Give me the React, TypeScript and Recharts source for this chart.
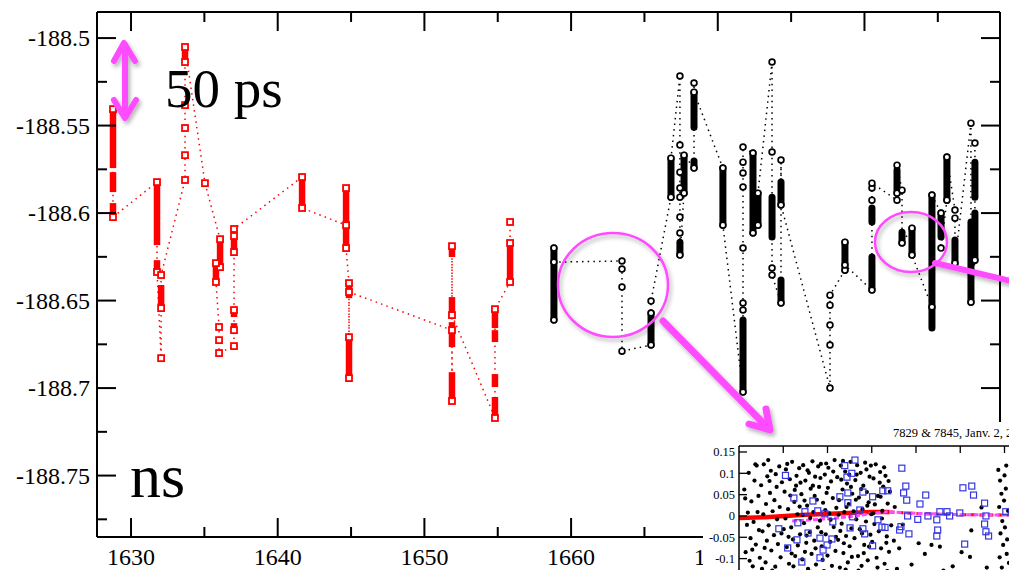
import React from 'react';
import { ComposedChart, Line, Scatter, XAxis, YAxis } from 'recharts';

// ===== main chart axes =====
const xTicks = [1630, 1635, 1640, 1645, 1650, 1655, 1660, 1665, 1670, 1675, 1680, 1685];
const yTicks = [-188.775, -188.75, -188.725, -188.7, -188.675, -188.65, -188.625, -188.6, -188.575, -188.55, -188.525, -188.5];
const X_DOMAIN = [1627.68, 1689.24];
const Y_DOMAIN = [-188.7851, -188.4851];

// ===== red series (time order, [x, y]) =====
const redPath = [
  [1628.77, -188.5406], [1628.77, -188.6023],
  [1631.77, -188.5823], [1631.77, -188.6337], [1632.05, -188.6829], [1632.05, -188.6543], [1632.05, -188.6354],
  [1633.68, -188.5811], [1633.68, -188.5669], [1633.68, -188.5514], [1633.68, -188.5383], [1633.68, -188.5137], [1633.68, -188.5051],
  [1635.04, -188.5829],
  [1636.07, -188.6149], [1636.07, -188.6309], [1635.79, -188.6286], [1635.79, -188.6394],
  [1636.0, -188.6651], [1636.0, -188.6726], [1636.0, -188.68],
  [1637.02, -188.676], [1637.02, -188.6669], [1637.02, -188.6554], [1637.02, -188.6223], [1637.02, -188.6131], [1637.02, -188.6091],
  [1641.66, -188.5794], [1641.66, -188.5971],
  [1644.66, -188.6069], [1644.66, -188.5857], [1644.66, -188.62],
  [1644.86, -188.64], [1644.86, -188.6709], [1644.86, -188.6943], [1644.86, -188.6451],
  [1651.88, -188.6669], [1651.88, -188.7074], [1651.88, -188.6189], [1651.88, -188.6583],
  [1654.81, -188.7171], [1654.81, -188.6549],
  [1655.84, -188.6394], [1655.84, -188.6171], [1655.84, -188.6051],
];
// dense runs of points: [x, top, bottom]
const redBars = [
  [1628.77, -188.5406, -188.5743], [1628.77, -188.5766, -188.588], [1628.77, -188.5943, -188.6023],
  [1631.77, -188.5823, -188.6183], [1631.77, -188.6269, -188.6337], [1632.05, -188.6411, -188.6543],
  [1633.68, -188.5051, -188.5137],
  [1636.07, -188.6149, -188.6309], [1635.79, -188.6286, -188.6394],
  [1637.02, -188.6131, -188.6223], [1637.02, -188.6554, -188.6594], [1637.02, -188.6629, -188.6669],
  [1641.66, -188.5794, -188.5971],
  [1644.66, -188.5857, -188.62],
  [1644.86, -188.64, -188.6486], [1644.86, -188.6709, -188.6943],
  [1651.88, -188.6189, -188.6251], [1651.88, -188.648, -188.66], [1651.88, -188.6623, -188.6766], [1651.88, -188.6909, -188.7074],
  [1654.81, -188.6549, -188.6657], [1654.81, -188.6669, -188.6737], [1654.81, -188.692, -188.6994], [1654.81, -188.7051, -188.7171],
  [1655.84, -188.6171, -188.6394],
];

// ===== black series =====
const blackPath = [
  [1658.83, -188.6611], [1658.83, -188.62], [1658.83, -188.628],
  [1663.47, -188.6274], [1663.47, -188.632], [1663.47, -188.6423], [1663.47, -188.6789],
  [1665.45, -188.6754], [1665.45, -188.6571], [1665.45, -188.6503],
  [1666.81, -188.5909], [1666.81, -188.5686],
  [1667.42, -188.5217], [1667.42, -188.5611], [1667.42, -188.5766], [1667.42, -188.5857], [1667.42, -188.5909], [1667.42, -188.6023], [1667.42, -188.6114], [1667.42, -188.624],
  [1667.7, -188.5886], [1667.7, -188.5669],
  [1668.38, -188.5743], [1668.38, -188.5257], [1668.38, -188.5309],
  [1670.35, -188.5743], [1670.35, -188.6069],
  [1671.72, -188.7023], [1671.72, -188.6554], [1671.72, -188.6514], [1671.72, -188.62], [1671.72, -188.5851], [1671.72, -188.5771], [1671.72, -188.5709], [1671.72, -188.5623],
  [1672.4, -188.5657], [1672.4, -188.6114],
  [1672.74, -188.6069], [1672.74, -188.5886],
  [1673.7, -188.5137], [1673.7, -188.5651], [1673.7, -188.6314], [1673.7, -188.6354],
  [1674.31, -188.6514], [1674.31, -188.5697], [1674.31, -188.5954],
  [1677.65, -188.7], [1677.65, -188.6754], [1677.65, -188.664], [1677.65, -188.6526], [1677.65, -188.6469],
  [1678.67, -188.6326], [1678.67, -188.6166], [1678.67, -188.6297],
  [1680.51, -188.644], [1680.51, -188.5926], [1680.51, -188.5857], [1680.51, -188.5829],
  [1682.22, -188.5926], [1682.22, -188.5886], [1682.22, -188.5726],
  [1682.56, -188.5869], [1682.56, -188.6171],
  [1683.24, -188.6086], [1683.24, -188.624],
  [1684.6, -188.6537], [1684.6, -188.5897],
  [1685.22, -188.6], [1685.22, -188.62],
  [1685.62, -188.5926], [1685.62, -188.568],
  [1686.17, -188.5983], [1686.17, -188.6029], [1686.17, -188.6286],
  [1687.26, -188.5486], [1687.26, -188.6509],
  [1687.53, -188.6269], [1687.53, -188.56],
];
const blackBars = [
  [1658.83, -188.62, -188.6611],
  [1665.45, -188.6571, -188.6754],
  [1666.81, -188.5686, -188.5909],
  [1667.42, -188.6166, -188.624],
  [1667.7, -188.5669, -188.5886],
  [1668.38, -188.5309, -188.5509], [1668.38, -188.5703, -188.5743],
  [1670.35, -188.5743, -188.6069],
  [1671.72, -188.6611, -188.7023],
  [1672.4, -188.5657, -188.6114],
  [1672.74, -188.5886, -188.6069],
  [1673.7, -188.5909, -188.6137],
  [1674.31, -188.5823, -188.5954], [1674.31, -188.6383, -188.6514],
  [1678.67, -188.6166, -188.6326],
  [1680.51, -188.6251, -188.644], [1680.51, -188.5971, -188.6051],
  [1682.22, -188.5754, -188.5886],
  [1682.56, -188.6109, -188.6171],
  [1683.24, -188.6086, -188.624],
  [1684.6, -188.5897, -188.6657],
  [1685.22, -188.6, -188.6137],
  [1685.62, -188.568, -188.5926],
  [1686.17, -188.6154, -188.6286],
  [1687.26, -188.6051, -188.6509],
  [1687.53, -188.5709, -188.5909], [1687.53, -188.6, -188.6269],
];

// ===== inset (residuals) =====
const insetXTicks = [1, 2, 3, 4, 5, 6, 7];
const insetYTicks = [-0.1, -0.05, 0, 0.05, 0.1, 0.15];
const insetBlack = [
  [0.12, 0.062], [0.18, -0.021], [0.22, 0.101], [0.15, -0.085], [0.28, 0.034], [0.31, -0.118], [0.26, -0.052], [0.35, 0.083], [0.2, 0.008], [0.33, -0.014],
  [0.4, 0.118], [0.38, -0.067], [0.44, 0.047], [0.47, -0.098], [0.42, 0.009], [0.14, 0.041], [0.24, -0.105], [0.37, 0.121], [0.3, -0.079], [0.45, -0.033],
  [0.5, 0.072], [0.53, -0.036], [0.56, 0.121], [0.58, -0.075], [0.61, 0.028], [0.64, 0.093], [0.6, -0.109], [0.67, -0.022], [0.7, 0.054], [0.73, -0.081],
  [0.66, 0.131], [0.76, 0.011], [0.79, -0.045], [0.72, 0.106], [0.82, -0.119], [0.85, 0.068], [0.8, 0.037], [0.88, -0.066], [0.91, 0.116], [0.86, -0.008],
  [0.94, -0.097], [0.97, 0.079], [0.92, 0.021], [0.55, 0.004], [0.63, -0.058], [0.69, 0.082], [0.75, -0.128], [0.83, 0.098], [0.96, -0.041], [0.52, -0.124],
  [1.01, -0.031], [1.03, 0.057], [1.06, 0.109], [1.08, -0.073], [1.11, 0.016], [1.13, -0.112], [1.15, 0.086], [1.18, -0.027], [1.2, 0.127], [1.22, -0.055],
  [1.25, 0.033], [1.27, -0.094], [1.29, 0.071], [1.32, 0.004], [1.34, -0.131], [1.36, 0.112], [1.38, -0.043], [1.05, -0.006], [1.16, 0.048], [1.23, -0.118],
  [1.3, 0.094], [1.37, 0.022], [1.09, 0.122], [1.19, -0.088], [1.26, 0.061], [1.33, -0.069], [1.12, -0.049], [1.39, 0.078],
  [1.41, 0.051], [1.43, -0.102], [1.45, 0.119], [1.47, -0.017], [1.5, 0.083], [1.52, -0.063], [1.54, 0.024], [1.56, -0.124], [1.58, 0.101], [1.6, -0.038],
  [1.62, 0.064], [1.64, -0.089], [1.66, 0.128], [1.68, 0.009], [1.7, -0.058], [1.72, 0.092], [1.74, -0.114], [1.76, 0.038], [1.78, -0.027], [1.44, 0.002],
  [1.49, -0.084], [1.55, 0.107], [1.61, -0.005], [1.67, 0.071], [1.73, -0.076], [1.79, 0.116], [1.48, 0.036], [1.63, -0.131], [1.71, 0.047], [1.53, -0.046],
  [1.81, 0.068], [1.83, -0.011], [1.85, 0.122], [1.87, -0.071], [1.9, 0.031], [1.92, -0.129], [1.94, 0.097], [1.96, -0.043], [1.98, 0.054], [2.0, -0.093],
  [2.02, 0.113], [2.04, 0.006], [2.06, -0.061], [2.08, 0.081], [2.1, -0.117], [2.12, 0.042], [2.14, -0.026], [2.16, 0.131], [2.18, -0.082], [2.2, 0.019],
  [1.84, 0.089], [1.89, -0.103], [1.95, 0.014], [2.01, 0.066], [2.07, -0.009], [2.13, 0.104], [2.19, -0.049], [1.86, -0.038], [1.97, 0.123], [2.09, -0.136],
  [2.22, 0.091], [2.24, -0.056], [2.26, 0.037], [2.28, -0.121], [2.3, 0.118], [2.32, -0.018], [2.34, 0.062], [2.36, -0.087], [2.38, 0.009], [2.4, 0.104],
  [2.42, -0.047], [2.44, 0.076], [2.46, -0.109], [2.48, 0.028], [2.5, -0.071], [2.52, 0.127], [2.54, -0.029], [2.56, 0.052], [2.58, -0.133], [2.25, 0.003],
  [2.31, 0.085], [2.37, -0.064], [2.43, 0.021], [2.49, 0.097], [2.55, -0.096], [2.29, -0.035], [2.41, -0.126], [2.53, 0.068], [2.59, 0.011], [2.35, 0.129],
  [2.61, -0.052], [2.63, 0.084], [2.65, -0.008], [2.67, 0.119], [2.69, -0.094], [2.71, 0.043], [2.73, -0.031], [2.75, 0.101], [2.77, -0.117], [2.79, 0.016],
  [2.81, 0.071], [2.83, -0.068], [2.85, 0.125], [2.87, -0.013], [2.89, 0.056], [2.91, -0.104], [2.93, 0.032], [2.95, 0.092], [2.97, -0.044], [2.99, 0.004],
  [2.64, 0.038], [2.7, -0.128], [2.76, 0.063], [2.82, -0.087], [2.88, 0.109], [2.94, -0.072], [2.66, 0.097], [2.78, -0.041], [2.9, 0.024], [2.98, 0.118],
  [3.01, -0.061], [3.04, 0.088], [3.06, -0.019], [3.09, 0.121], [3.11, -0.098], [3.14, 0.047], [3.16, -0.036], [3.19, 0.103], [3.21, -0.076], [3.24, 0.012],
  [3.26, 0.069], [3.29, -0.112], [3.31, 0.094], [3.34, -0.048], [3.36, 0.029], [3.39, -0.084], [3.41, 0.057], [3.44, -0.022], [3.07, 0.027], [3.13, -0.121],
  [3.18, 0.078], [3.23, -0.006], [3.28, 0.114], [3.33, -0.063], [3.38, 0.082], [3.03, 0.006], [3.2, 0.045], [3.35, -0.129],
  [3.5, -0.058], [3.57, -0.124], [3.62, -0.076], [3.9, -0.114], [4.06, -0.064], [4.2, -0.089], [4.35, -0.068], [4.54, -0.072], [4.62, -0.128], [4.83, -0.118],
  [5.03, -0.085], [5.22, -0.096], [5.25, -0.034], [5.6, -0.121], [5.48, 0.02], [3.52, 0.021], [3.7, -0.02],
  [5.86, 0.108], [5.9, 0.083], [5.93, 0.052], [5.88, 0.021], [5.95, -0.012], [5.91, -0.041], [5.97, -0.068], [5.89, -0.097], [5.94, -0.121],
  [6.0, 0.095], [6.03, 0.064], [6.01, -0.027], [6.05, -0.089], [5.99, 0.036], [6.06, -0.055], [6.08, 0.012], [6.1, -0.11], [6.04, 0.118],
];
const insetBlue = [
  [1.24, 0.042], [1.33, -0.016], [1.31, -0.056], [1.42, -0.108], [1.49, 0.01], [1.56, -0.04], [1.67, 0.035], [1.78, 0.012], [1.83, -0.052], [1.83, -0.098],
  [1.9, -0.08], [1.94, 0.005], [1.99, -0.068], [2.1, -0.054], [2.12, -0.014], [2.28, 0.045], [2.39, 0.118], [2.44, 0.091], [2.46, 0.054], [2.46, 0.031],
  [2.51, -0.028], [2.55, 0.1], [2.57, -0.002], [2.62, 0.131], [2.73, 0.014], [2.8, 0.056], [2.8, -0.03], [2.84, -0.042], [3.02, 0.045], [3.02, -0.07],
  [3.14, -0.009], [3.23, -0.026], [3.25, 0.059], [3.3, -0.027], [3.36, 0.059], [3.63, -0.033], [3.66, -0.025], [3.68, 0.112], [3.72, 0.054], [3.77, 0.07],
  [3.79, 0.037], [3.81, 0.0], [3.84, -0.042], [4.04, -0.008], [4.09, 0.028], [4.22, 0.049], [4.27, 0.0], [4.47, -0.009], [4.47, -0.047], [4.49, -0.033],
  [4.54, 0.01], [4.7, 0.01], [4.76, 0.0], [4.99, 0.007], [5.06, 0.066], [5.1, -0.066], [5.26, 0.07], [5.3, 0.049], [5.55, 0.03], [5.58, 0.0],
  [5.55, -0.019], [5.58, -0.037], [5.64, -0.047], [6.03, 0.01], [1.05, 0.095], [0.9, -0.03], [1.1, -0.075],
];
const insetRed = [[0, -0.005], [0.6, -0.003], [1.4, 0.002], [2.2, 0.006], [3.0, 0.009], [3.4, 0.009]];
const insetRedTail = [[3.4, 0.009], [4.2, 0.005], [5.0, 0.003], [5.8, 0.002], [6.4, 0.002]];
const insetMagenta = [[1.2, -0.012], [1.8, -0.008], [2.5, -0.002], [3.0, 0.006], [3.4, 0.01], [4.0, 0.006], [5.0, 0.003], [6.4, 0.002]];

const FONT = '"Liberation Serif", "Times New Roman", serif';
const RED = '#ff0000';
const MAGENTA = '#ff4cff';
const AXIS = { stroke: '#000', strokeWidth: 2 };

const pts = (a: number[][]) => a.map(([x, y]) => ({ x, y }));
const isMajorY = (v: number) => Math.round(v * 1000) % 50 === 0;

// ticks point inwards, labels outside (axes have 1px thickness so recharts draws them)
function BottomTick({ x, y, payload }: any) {
  const major = payload.value % 10 === 0;
  return (
    <g>
      <line x1={x} y1={y} x2={x} y2={y - (major ? 19 : 10)} stroke="#000" strokeWidth={2} />
      {major && (
        <text x={x} y={y + 28} textAnchor="middle" fontSize={24} fontFamily={FONT} fill="#000">
          {payload.value}
        </text>
      )}
    </g>
  );
}

function TopTick({ x, y, payload }: any) {
  const major = payload.value % 10 === 0;
  return <line x1={x} y1={y} x2={x} y2={y + (major ? 19 : 10)} stroke="#000" strokeWidth={2} />;
}

function LeftTick({ x, y, payload }: any) {
  const major = isMajorY(payload.value);
  return (
    <g>
      <line x1={x} y1={y} x2={x + (major ? 19 : 10)} y2={y} stroke="#000" strokeWidth={2} />
      {major && (
        <text x={x - 7} y={y + 8} textAnchor="end" fontSize={24} fontFamily={FONT} fill="#000">
          {String(payload.value)}
        </text>
      )}
    </g>
  );
}

function RightTick({ x, y, payload }: any) {
  const major = isMajorY(payload.value);
  return <line x1={x} y1={y} x2={x - (major ? 19 : 10)} y2={y} stroke="#000" strokeWidth={2} />;
}

function InsetLeftTick({ x, y, payload }: any) {
  return (
    <g>
      <line x1={x} y1={y} x2={x + 8} y2={y} stroke="#000" strokeWidth={1.3} />
      <text x={x - 4} y={y + 4.5} textAnchor="end" fontSize={12.5} fontFamily={FONT} fill="#000">
        {String(payload.value)}
      </text>
    </g>
  );
}

function InsetTopTick({ x, y }: any) {
  return <line x1={x} y1={y} x2={x} y2={y + 7} stroke="#000" strokeWidth={1.3} />;
}

const redSquare = (p: any) => (
  <rect x={p.cx - 3} y={p.cy - 3} width={6} height={6} fill="#fff" stroke={RED} strokeWidth={1.8} />
);
const blackCircle = (p: any) => (
  <circle cx={p.cx} cy={p.cy} r={2.9} fill="#fff" stroke="#000" strokeWidth={1.7} />
);
const insetDot = (p: any) => <circle cx={p.cx} cy={p.cy} r={2.1} fill="#000" />;
const insetSquare = (p: any) => (
  <rect x={p.cx - 3} y={p.cy - 3} width={6} height={6} fill="none" stroke="#3535e0" strokeWidth={1.2} />
);

function MainChart() {
  return (
    <ComposedChart width={1009} height={570} margin={{ top: 11, right: 8, bottom: 32, left: 96 }}>
      <XAxis type="number" dataKey="x" domain={X_DOMAIN} ticks={xTicks} interval={0} height={1}
        tickSize={0} tickMargin={0} tickLine={false} axisLine={AXIS} allowDataOverflow
        tick={(p: any) => <BottomTick {...p} />} />
      <XAxis xAxisId="top" orientation="top" type="number" dataKey="x" domain={X_DOMAIN} ticks={xTicks}
        interval={0} height={1} tickSize={0} tickMargin={0} tickLine={false} axisLine={AXIS} allowDataOverflow
        tick={(p: any) => <TopTick {...p} />} />
      <YAxis type="number" dataKey="y" domain={Y_DOMAIN} ticks={yTicks} interval={0} width={1}
        tickSize={0} tickMargin={0} tickLine={false} axisLine={AXIS} allowDataOverflow
        tick={(p: any) => <LeftTick {...p} />} />
      <YAxis yAxisId="right" orientation="right" type="number" dataKey="y" domain={Y_DOMAIN} ticks={yTicks}
        interval={0} width={1} tickSize={0} tickMargin={0} tickLine={false} axisLine={AXIS} allowDataOverflow
        tick={(p: any) => <RightTick {...p} />} />

      <Line data={pts(redPath)} dataKey="y" stroke={RED} strokeWidth={1.5} strokeDasharray="1.5 4.2"
        dot={false} isAnimationActive={false} />
      <Line data={pts(blackPath)} dataKey="y" stroke="#000" strokeWidth={1.5} strokeDasharray="1.5 4.2"
        dot={false} isAnimationActive={false} />
      {redBars.map(([x, t, b], i) => (
        <Line key={'rb' + i} data={[{ x, y: t }, { x, y: b }]} dataKey="y" stroke={RED} strokeWidth={6.5}
          dot={false} isAnimationActive={false} />
      ))}
      {blackBars.map(([x, t, b], i) => (
        <Line key={'bb' + i} data={[{ x, y: t }, { x, y: b }]} dataKey="y" stroke="#000" strokeWidth={7}
          strokeLinecap="round" dot={false} isAnimationActive={false} />
      ))}
      <Scatter data={pts(redPath)} shape={redSquare} isAnimationActive={false} />
      <Scatter data={pts(blackPath)} shape={blackCircle} isAnimationActive={false} />
    </ComposedChart>
  );
}

function InsetChart() {
  return (
    <div style={{ position: 'absolute', left: 703, top: 422, width: 306, height: 148, overflow: 'hidden', background: '#fff' }}>
      <ComposedChart width={400} height={190} margin={{ top: 23, right: 10, bottom: 15, left: 35 }}>
        <XAxis orientation="top" type="number" dataKey="x" domain={[0, 8]} ticks={insetXTicks} interval={0}
          height={1} tickSize={0} tickMargin={0} tickLine={false} axisLine={{ stroke: '#000', strokeWidth: 1.5 }}
          allowDataOverflow tick={(p: any) => <InsetTopTick {...p} />} />
        <YAxis type="number" dataKey="y" domain={[-0.19, 0.164]} ticks={insetYTicks} interval={0} width={1}
          tickSize={0} tickMargin={0} tickLine={false} axisLine={{ stroke: '#000', strokeWidth: 1.5 }}
          allowDataOverflow tick={(p: any) => <InsetLeftTick {...p} />} />
        <Scatter data={pts(insetBlack)} shape={insetDot} isAnimationActive={false} />
        <Scatter data={pts(insetBlue)} shape={insetSquare} isAnimationActive={false} />
        <Line data={pts(insetRed)} dataKey="y" stroke={RED} strokeWidth={4.5} dot={false} isAnimationActive={false} />
        <Line data={pts(insetRedTail)} dataKey="y" stroke={RED} strokeWidth={3} strokeDasharray="5 4"
          dot={false} isAnimationActive={false} />
        <Line data={pts(insetMagenta)} dataKey="y" stroke={MAGENTA} strokeWidth={3} strokeDasharray="5 2"
          dot={false} isAnimationActive={false} />
      </ComposedChart>
    </div>
  );
}

function Annotations() {
  return (
    <svg width={1009} height={570} style={{ position: 'absolute', left: 0, top: 0, pointerEvents: 'none' }}>
      <defs>
        <filter id="shadow" x="-20%" y="-20%" width="140%" height="140%">
          <feDropShadow dx="2" dy="3" stdDeviation="2" floodColor="#000" floodOpacity="0.3" />
        </filter>
      </defs>
      <g stroke={MAGENTA} fill="none" strokeLinecap="round" strokeLinejoin="round" filter="url(#shadow)">
        <path d="M125,45 L125,116" strokeWidth={6} />
        <path d="M114,61 L124,43 L135,61" strokeWidth={6} />
        <path d="M114,100 L125,118 L136,100" strokeWidth={6} />
        <ellipse cx={613} cy={285} rx={55} ry={52} strokeWidth={2.5} />
        <ellipse cx={911} cy={242} rx={36} ry={30} strokeWidth={2.5} />
        <path d="M663,321 L767,427" strokeWidth={7} />
        <path d="M749,424 L770,430 L766,409" strokeWidth={7} />
        <path d="M935,263 L1015,282" strokeWidth={6} />
      </g>
      <text x={165} y={107} fontSize={55} fontFamily={FONT} fill="#000">50 ps</text>
      <text x={130} y={497} fontSize={62} fontFamily={FONT} fill="#000">ns</text>
      <text x={893} y={437} fontSize={12.5} fontFamily={FONT} fill="#000">7829 &amp; 7845, Janv. 2, 2007</text>
    </svg>
  );
}

export default function App() {
  return (
    <div style={{ position: 'relative', width: 1009, height: 570, overflow: 'hidden', background: '#fff' }}>
      <style>{`body{margin:0;overflow:hidden}`}</style>
      <MainChart />
      <InsetChart />
      <Annotations />
    </div>
  );
}
